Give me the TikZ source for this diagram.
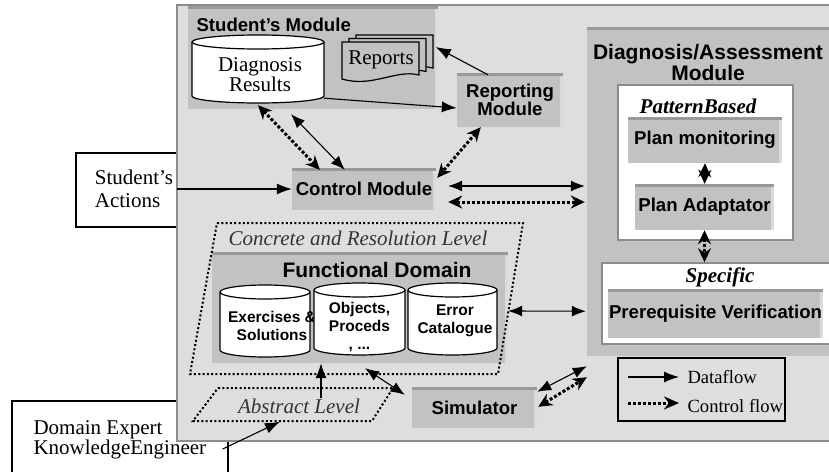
\documentclass[tikz,border=0pt]{standalone}
\usepackage{fontspec}
\setmainfont{Liberation Serif}
\setsansfont{Liberation Sans}
\usepackage{tikz}
\usetikzlibrary{positioning, arrows.meta}

\definecolor{panelfill}{gray}{0.87}
\definecolor{boxfill}{gray}{0.76}
\definecolor{bevdark}{gray}{0.6}
\definecolor{bevlight}{gray}{0.86}
\definecolor{rimgray}{gray}{0.55}

% database drum: centre x, top ellipse y, bottom ellipse y, half width
\newcommand{\dbdrum}[4]{%
  \filldraw[drumline] (#1-#4,#2) -- (#1-#4,#3)
    arc[start angle=180, end angle=360, x radius=#4pt, y radius=7pt]
    -- (#1+#4,#2)
    arc[start angle=0, end angle=180, x radius=#4pt, y radius=7pt] -- cycle;
  \draw[drumline] (#1-#4,#2) arc[start angle=180, end angle=360, x radius=#4pt, y radius=7pt];
}

\tikzset{
  panelbg/.style={fill=panelfill, draw=rimgray, line width=1.5pt, inner sep=0pt},
  raised/.style={fill=boxfill, inner sep=0pt,
    path picture={
      \fill[bevdark] (path picture bounding box.north west) rectangle ([yshift=-3pt]path picture bounding box.north east);
      \fill[bevlight] ([xshift=-3pt,yshift=-3pt]path picture bounding box.north east) rectangle (path picture bounding box.south east);
    }},
  whitebox/.style={fill=white, draw=rimgray, line width=1.5pt, inner sep=0pt},
  actorbox/.style={fill=white, draw=black, line width=1.3pt, inner sep=0pt},
  legendbox/.style={draw=black, line width=1.5pt, inner sep=0pt},
  drumline/.style={fill=white, draw=black, line width=1.2pt},
  drumcover/.style={inner sep=0pt, align=center},
  page/.style={fill=boxfill, draw=black, line width=1.2pt},
  boxlabel/.style={font=\fontsize{18.6}{18.5}\selectfont\sffamily\bfseries, align=center},
  titlelabel/.style={font=\fontsize{21}{21}\selectfont\sffamily\bfseries, align=center},
  serifbig/.style={font=\fontsize{21}{18}\selectfont, align=center},
  druminner/.style={font=\fontsize{15.5}{18}\selectfont\sffamily\bfseries, align=center, inner sep=0pt},
  kindlabel/.style={font=\fontsize{21}{22}\selectfont\bfseries\itshape},
  levellabel/.style={font=\fontsize{21}{22}\selectfont\itshape, text=black!80, inner sep=0pt},
  legendlabel/.style={font=\fontsize{18.6}{20}\selectfont},
  levelline/.style={line width=2pt, dash pattern=on 2pt off 2.3pt},
  data/.style={line width=1.1pt, -{Latex[length=15pt,width=11pt]}},
  datatwo/.style={line width=1.1pt, {Latex[length=14pt,width=11pt]}-{Latex[length=14pt,width=11pt]}},
  ctrl/.style={line width=3pt, dash pattern=on 3pt off 2pt, -{Stealth[length=15pt,width=13pt]}},
  ctrltwo/.style={line width=3pt, dash pattern=on 3pt off 2pt,
    {Stealth[length=14pt,width=13pt]}-{Stealth[length=14pt,width=13pt]}}
}

\begin{document}
\begin{tikzpicture}[x=1pt, y=-1pt]
    \useasboundingbox (0,0) rectangle (829,471);

    % actors outside the system
    \node[actorbox, minimum width=101, minimum height=74] (actbox) at (126.5,190) {};
    \node[actorbox, minimum width=216, minimum height=90] (expbox) at (120,446) {};

    % main panel
    \node[panelbg, minimum width=663, minimum height=436] (panel) at (508.5,223) {};

    % Student's Module
    \node[raised, minimum width=250, minimum height=103] (studmod) at (313,57.5) {};
    \node[boxlabel, anchor=west] (studtitle) at (193,25) {Student's Module};
    \dbdrum{258}{42}{96}{66}
    \node[drumcover, serifbig, minimum width=132, minimum height=58] (diagres) at (260,75) {Diagnosis\\Results};
    \foreach \dx/\dy in {14/-7, 7/-3.5, 0/0} {
        \filldraw[page] (342+\dx,42+\dy) -- (419+\dx,42+\dy) -- (419+\dx,75+\dy)
            .. controls (396+\dx,69+\dy) and (372+\dx,88+\dy) .. (342+\dx,79+\dy) -- cycle;
    }
    \node[serifbig, minimum width=77, minimum height=38, inner sep=0pt] (reports) at (381,60) {Reports};

    \node[raised, boxlabel, minimum width=106, minimum height=54] (reporting) at (510,100) {Reporting\\Module};
    \node[raised, boxlabel, minimum width=144, minimum height=42] (control) at (364,189) {Control Module};
    \node[serifbig, font=\fontsize{21}{23}\selectfont, align=left] (actions) at (134,189) {Student's\\Actions};

    % Diagnosis/Assessment Module
    \node[raised, minimum width=253, minimum height=329] (diagmod) at (713.5,191.5) {};
    \node[titlelabel] (diagtitle) at (708,62) {Diagnosis/Assessment\\Module};
    \node[whitebox, minimum width=175, minimum height=155] (pattbox) at (705.5,162.5) {};
    \node[kindlabel] (patttitle) at (698,106) {PatternBased};
    \node[raised, boxlabel, minimum width=154, minimum height=46] (planmon) at (705,140) {Plan monitoring};
    \node[raised, boxlabel, minimum width=139, minimum height=46] (planadapt) at (704.5,207) {Plan Adaptator};
    \node[whitebox, minimum width=238, minimum height=81] (specbox) at (721,303.5) {};
    \node[kindlabel] (spectitle) at (720,277) {Specific};
    \node[raised, boxlabel, minimum width=215, minimum height=49] (prereq) at (715.5,313.5) {Prerequisite Verification};

    % Functional Domain
    \node[raised, minimum width=296, minimum height=111] (funcdom) at (360,307.5) {};
    \node[titlelabel] (functitle) at (377,270) {Functional Domain};
    \dbdrum{265}{292}{350}{45}
    \node[druminner] (exer) at (272,326) {Exercises \&\\Solutions};
    \dbdrum{359.5}{290}{348}{45.5}
    \node[druminner, minimum height=60] (objs) at (359.5,327) {Objects,\\Proceds\\, ...};
    \dbdrum{452.5}{290}{348}{44.5}
    \node[druminner] (errcat) at (455,321) {Error\\Catalogue};

    % levels
    \draw[levelline] (217,223) -- (523,223) -- (498,374) -- (190,374) -- cycle;
    \node[levellabel] (conclabel) at (358,238) {Concrete and Resolution Level};
    \draw[levelline] (218,388) -- (393,388) -- (372,421) -- (193,421) -- cycle;
    \node[levellabel, minimum width=200, minimum height=33] (abstract) at (299,406) {Abstract Level};

    \node[raised, boxlabel, minimum width=125, minimum height=41] (simulator) at (474.5,407.5) {Simulator};

    % legend
    \node[legendbox, minimum width=167, minimum height=63] (legend) at (701.5,389.5) {};
    \node[legendlabel, anchor=west] (dflab) at (684,377) {Dataflow};
    \node[legendlabel, anchor=west] (cflab) at (684,406) {Control flow};
    \draw[data] ([xshift=-56pt]dflab.west) -- ([xshift=-5pt]dflab.west);
    \draw[ctrl] ([xshift=-56pt,yshift=3pt]cflab.west) -- ([xshift=-5pt,yshift=3pt]cflab.west);

    \node[serifbig, font=\fontsize{21}{20}\selectfont, align=left, anchor=west] (expert) at (30,440) {Domain Expert\\KnowledgeEngineer};

    % connectors
    \draw[data] (actions.east) -- (control.west);
    \draw[datatwo] ([xshift=31pt,yshift=-10pt]diagres.south) -- ([xshift=53pt,yshift=-2pt]control.north west);
    \draw[ctrltwo] ([xshift=-2pt,yshift=-1pt]diagres.south) -- ([xshift=28pt,yshift=-2pt]control.north west);
    \draw[data] ([xshift=-2pt,yshift=6pt]diagres.south east) -- ([yshift=-8pt]reporting.west);
    \draw[data] ([xshift=-22pt,yshift=-2pt]reporting.north) -- ([xshift=16pt,yshift=13pt]reports.east);
    \draw[ctrltwo] ([xshift=24pt]reporting.south west) -- ([xshift=1pt,yshift=-10pt]control.north east);
    \draw[datatwo] ([xshift=12pt,yshift=3pt]control.east) -- ([xshift=-2pt,yshift=5.5pt]diagmod.west);
    \draw[ctrltwo] ([xshift=12pt,yshift=-13pt]control.east) -- ([xshift=-2pt,yshift=-10.5pt]diagmod.west);
    \draw[ctrltwo] (planmon.south) -- (planadapt.north);
    \draw[ctrltwo] (planadapt.south) -- (planadapt.south |- specbox.north);
    \draw[datatwo] ([yshift=-3.5pt]funcdom.east) -- ([xshift=-1pt,yshift=45pt]diagmod.south west);
    \draw[datatwo] ([xshift=5.5pt,yshift=-11pt]objs.south) -- ([xshift=-7pt,yshift=-8pt]simulator.north west);
    \draw[datatwo] ([yshift=-5pt]simulator.north east) -- ([yshift=-10pt]diagmod.south west);
    \draw[ctrltwo] ([xshift=1pt,yshift=-20pt]simulator.north east) -- ([yshift=-21pt]diagmod.south west);
    \draw[data] ([xshift=22pt,yshift=-9pt]abstract.north) -- ([xshift=-39pt]funcdom.south);
    \draw[data] ([xshift=13pt,yshift=-9pt]expert.east) -- ([xshift=-19pt,yshift=1pt]abstract.south);
\end{tikzpicture}
\end{document}
